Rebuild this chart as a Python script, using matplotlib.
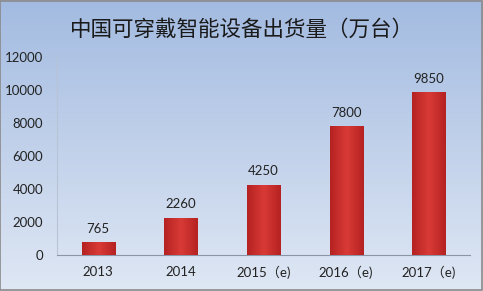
import matplotlib
matplotlib.use("Agg")
import matplotlib.pyplot as plt
import numpy as np
from matplotlib.colors import LinearSegmentedColormap

plt.rcParams['font.family'] = ['Lato', 'Noto Sans CJK SC', 'DejaVu Sans']

categories = ["2013", "2014", "2015（e)", "2016（e)", "2017（e)"]
values = [765, 2260, 4250, 7800, 9850]
yticks = [0, 2000, 4000, 6000, 8000, 10000, 12000]
title = "中国可穿戴智能设备出货量（万台）"

fig = plt.figure(figsize=(4.83, 2.91), dpi=100)

# background gradient
bg = fig.add_axes([0, 0, 1, 1])
grad = np.linspace(0, 1, 256).reshape(-1, 1)
cmap_bg = LinearSegmentedColormap.from_list("bg", ["#dfe7f4", "#a3bbe1"])
bg.imshow(grad, aspect='auto', cmap=cmap_bg, origin='lower', extent=[0, 1, 0, 1])
bg.set_xlim(0, 1); bg.set_ylim(0, 1)
bg.axis('off')
bg.add_patch(plt.Rectangle((0.001, 0.002), 0.997, 0.995, fill=False, ec="#8a8a8a", lw=1.2, transform=bg.transAxes))

ax = fig.add_axes([0.118, 0.124, 0.855, 0.68])
ax.patch.set_alpha(0)
x = np.arange(len(categories))
bars = ax.bar(x, values, width=0.4, color="#c9302e", edgecolor="#a82424", linewidth=0.6, zorder=3)

# subtle horizontal shading on bars
shade = np.array([[0.0, 0.5, 1.0, 0.5, 0.0]])
cmap_bar = LinearSegmentedColormap.from_list("bar", ["#b52222", "#d83a36"])
for b in bars:
    im = ax.imshow(np.linspace(0, 1, 64).reshape(1, -1) * 0 + np.abs(np.linspace(-1, 1, 64)).reshape(1, -1) * -1 + 1,
                   aspect='auto', cmap=cmap_bar,
                   extent=[b.get_x(), b.get_x() + b.get_width(), 0, b.get_height()], zorder=3.5)
    im.set_clip_path(b)

for xi, v in zip(x, values):
    ax.text(xi, v + 450, str(v), ha='center', va='bottom', fontsize=9.5, color="#222222")

ax.set_xlim(-0.5, len(categories) - 0.5)
ax.set_ylim(0, 12000)
ax.set_yticks(yticks)
ax.set_yticklabels([str(t) for t in yticks], fontsize=9.5, color="#222222")
ax.set_xticks(x)
ax.set_xticklabels(categories, fontsize=9.5, color="#222222")
ax.tick_params(length=0, pad=8)
ax.tick_params(axis='y', pad=10)
for s in ['top', 'right']:
    ax.spines[s].set_visible(False)
ax.spines['left'].set_color("#b8c4d4")
ax.spines['bottom'].set_color("#8a96a8")

fig.text(0.5, 0.9, title, ha='center', va='center', fontsize=15.5, color="#1a1a1a")

fig.savefig("out.png", dpi=100)
